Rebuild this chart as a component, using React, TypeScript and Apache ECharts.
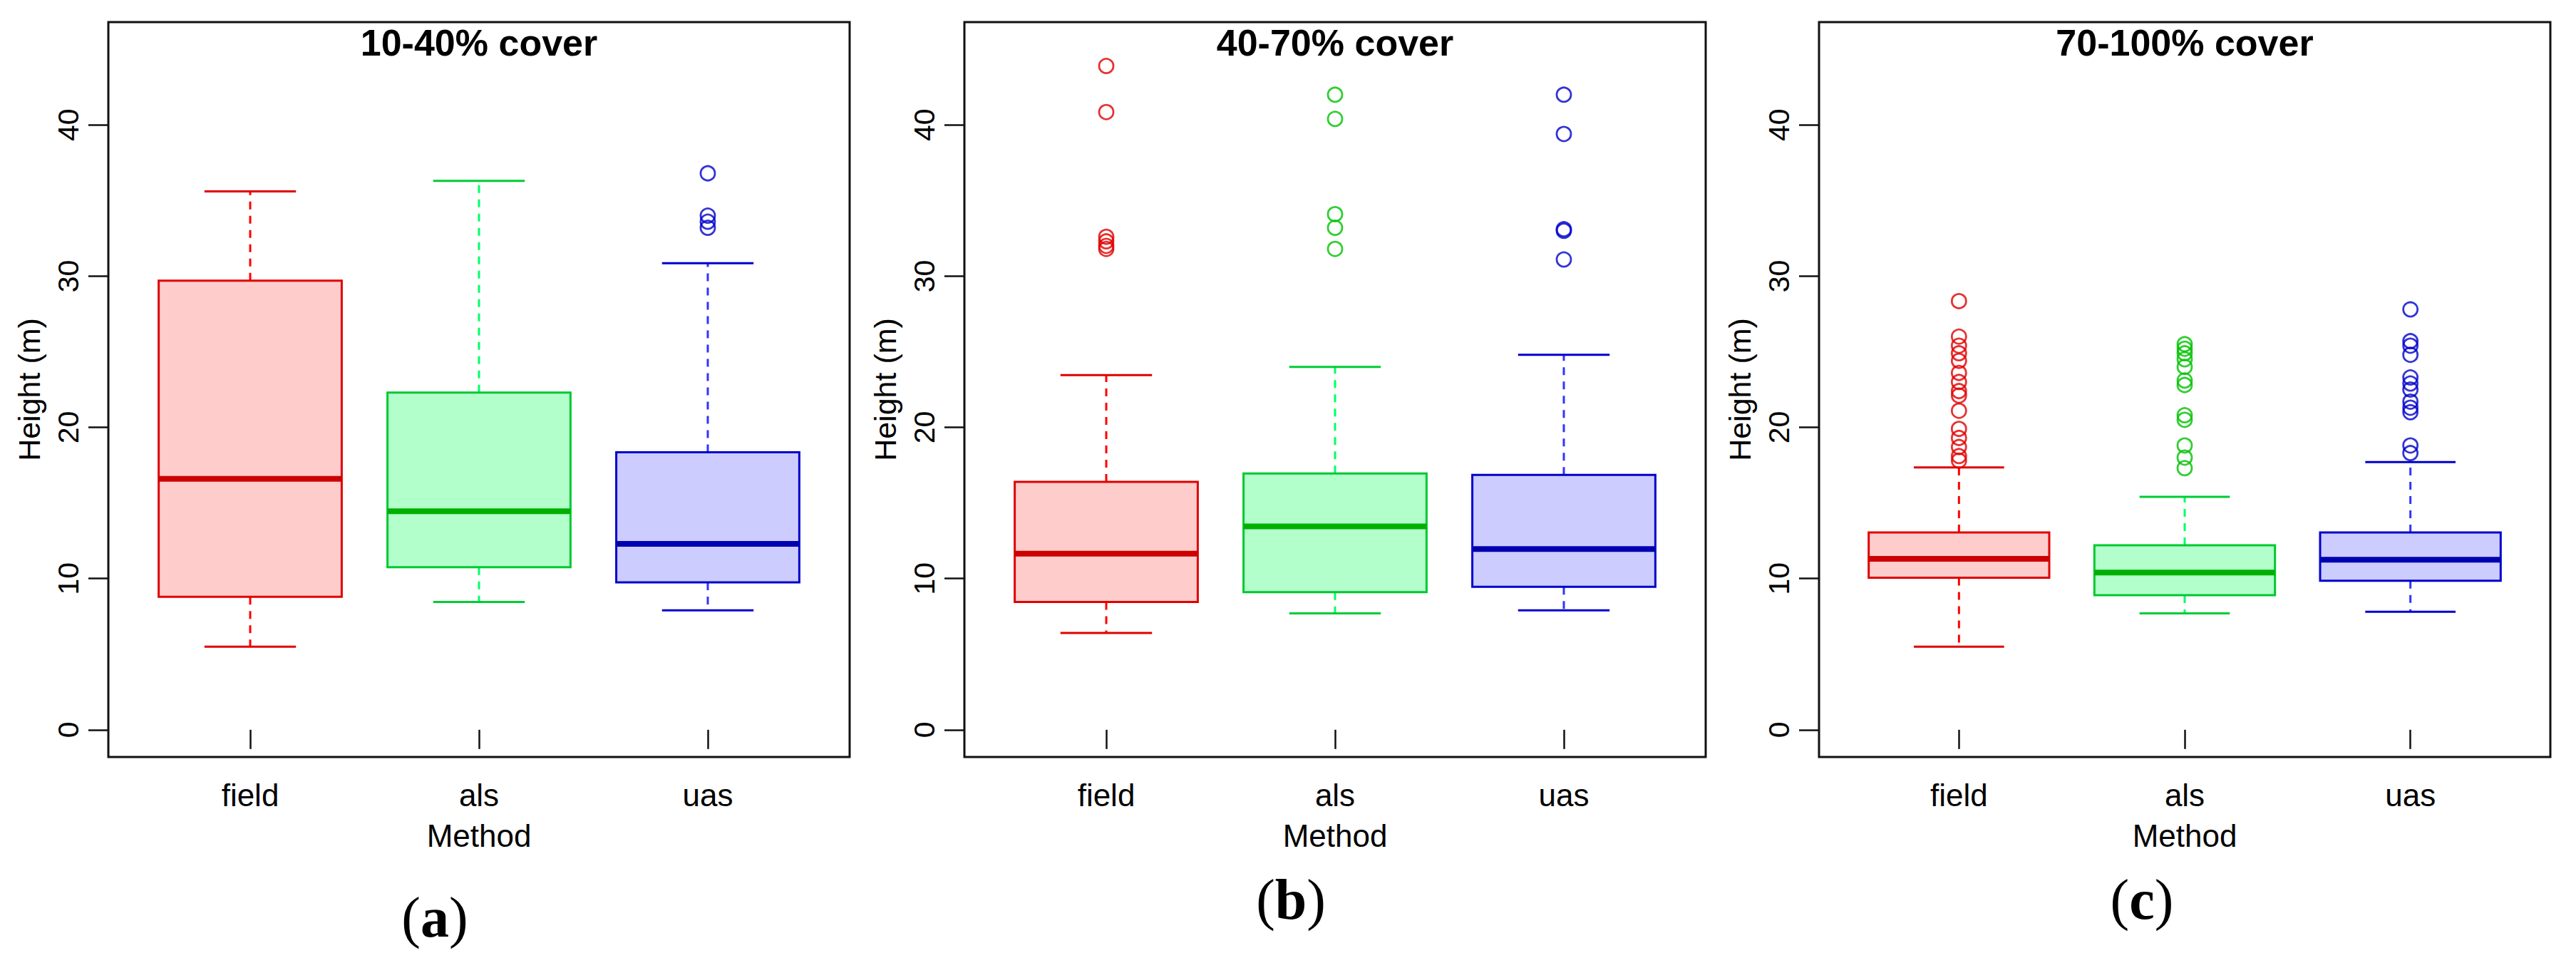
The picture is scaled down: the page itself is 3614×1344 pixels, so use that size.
import React, { useEffect, useRef } from "react";
import * as echarts from "echarts";

// ---------- data ----------
const categories = ["field", "als", "uas"];
const panelTitles = ["10-40% cover", "40-70% cover", "70-100% cover"];
const panelLetters = ["a", "b", "c"];
const yTicks = [0, 10, 20, 30, 40];
const xTicks = [1, 2, 3];

// [lower whisker, Q1, median, Q3, upper whisker]
const statsA = [
  [5.5, 8.8, 16.6, 29.7, 35.6],
  [8.45, 10.75, 14.45, 22.3, 36.3],
  [7.9, 9.75, 12.3, 18.35, 30.85],
];
const statsB = [
  [6.4, 8.45, 11.65, 16.4, 23.45],
  [7.7, 9.1, 13.45, 16.95, 24.0],
  [7.9, 9.45, 11.95, 16.85, 24.8],
];
const statsC = [
  [5.5, 10.05, 11.3, 13.05, 17.35],
  [7.7, 8.9, 10.4, 12.2, 15.4],
  [7.8, 9.85, 11.25, 13.05, 17.7],
];

const outliersA = [[], [], [36.8, 34.0, 33.6, 33.2]];
const outliersB = [
  [43.9, 40.85, 32.6, 32.3, 32.0, 31.8],
  [42.0, 40.4, 34.1, 33.2, 31.8],
  [42.0, 39.4, 33.1, 33.0, 31.1],
];
const outliersC = [
  [28.35, 26.0, 25.4, 24.9, 24.4, 23.6, 23.0, 22.4, 22.1, 21.1, 19.9, 19.3, 18.7, 18.1, 17.8],
  [25.5, 25.2, 24.9, 24.5, 24.0, 23.1, 22.8, 20.8, 20.5, 18.8, 18.0, 17.3],
  [27.8, 25.7, 25.4, 24.8, 23.3, 22.9, 22.5, 21.7, 21.3, 21.0, 18.8, 18.3],
];

const allStats = [statsA, statsB, statsC];
const allOutliers = [outliersA, outliersB, outliersC];

// ---------- styles ----------
const boxFill = ["#ffcccc", "#b3ffcc", "#ccccff"];
const boxBorder = ["#e00000", "#00c830", "#0000cc"];
const medianColor = ["#cc0000", "#00b000", "#0000b0"];
const whiskerColor = ["#ff0000", "#00ff66", "#3333ff"];
const capColor = ["#e00000", "#00cc33", "#0000cc"];
const outlierColor = ["#e00000", "#00c000", "#0000cc"];

const grids = [
  { left: 152, top: 31, width: 1040, height: 1031 },
  { left: 1353, top: 31, width: 1040, height: 1031 },
  { left: 2552, top: 31, width: 1026, height: 1031 },
];
const letterPos = [
  [610, 1287],
  [1811, 1262],
  [3005, 1262],
];

const FONT = "'Liberation Sans', Arial, sans-serif";

function renderBox(params: any, api: any) {
  const k = params.dataIndex;
  const x = api.value(0);
  const mn = api.coord([x, api.value(1)]);
  const q1 = api.coord([x, api.value(2)]);
  const md = api.coord([x, api.value(3)]);
  const q3 = api.coord([x, api.value(4)]);
  const mx = api.coord([x, api.value(5)]);
  const half = api.size([0.4, 0])[0];
  const capHalf = api.size([0.2, 0])[0];
  const cx = mn[0];
  const lw = 3;
  return {
    type: "group",
    children: [
      {
        type: "line",
        shape: { x1: cx, y1: q3[1], x2: cx, y2: mx[1] },
        style: { stroke: whiskerColor[k], lineWidth: lw, lineDash: [11, 9] },
      },
      {
        type: "line",
        shape: { x1: cx, y1: q1[1], x2: cx, y2: mn[1] },
        style: { stroke: whiskerColor[k], lineWidth: lw, lineDash: [11, 9] },
      },
      {
        type: "line",
        shape: { x1: cx - capHalf, y1: mx[1], x2: cx + capHalf, y2: mx[1] },
        style: { stroke: capColor[k], lineWidth: lw },
      },
      {
        type: "line",
        shape: { x1: cx - capHalf, y1: mn[1], x2: cx + capHalf, y2: mn[1] },
        style: { stroke: capColor[k], lineWidth: lw },
      },
      {
        type: "rect",
        shape: { x: cx - half, y: q3[1], width: half * 2, height: q1[1] - q3[1] },
        style: { fill: boxFill[k], stroke: boxBorder[k], lineWidth: lw },
      },
      {
        type: "line",
        shape: { x1: cx - half, y1: md[1], x2: cx + half, y2: md[1] },
        style: { stroke: medianColor[k], lineWidth: 8 },
      },
    ],
  };
}

export default function App() {
  const ref = useRef<HTMLDivElement>(null);
  useEffect(() => {
    if (!ref.current) return;
    const chart = echarts.init(ref.current, undefined, { renderer: "svg" });

    const grid = grids.map((g) => ({
      ...g,
      show: true,
      borderColor: "#111",
      borderWidth: 3,
      backgroundColor: "transparent",
      containLabel: false,
    }));

    const xAxis = grids.map((_, i) => ({
      type: "value",
      gridIndex: i,
      min: 0.38,
      max: 3.62,
      name: "Method",
      nameLocation: "middle",
      nameGap: 88,
      nameTextStyle: { fontFamily: FONT, fontSize: 44, color: "#000" },
      axisLine: { show: false },
      splitLine: { show: false },
      axisTick: {
        show: true,
        inside: false,
        length: 27,
        customValues: xTicks,
        lineStyle: { color: "#111", width: 2.5 },
      },
      axisLabel: {
        customValues: xTicks,
        margin: 31,
        fontFamily: FONT,
        fontSize: 44,
        color: "#000",
        formatter: (v: number) => categories[Math.round(v) - 1] ?? "",
      },
    }));

    const yAxis = grids.map((_, i) => ({
      type: "value",
      gridIndex: i,
      min: -1.8,
      max: 46.8,
      name: "Height (m)",
      nameLocation: "middle",
      nameRotate: 90,
      nameGap: 90,
      nameTextStyle: { fontFamily: FONT, fontSize: 43, color: "#000" },
      axisLine: { show: false },
      splitLine: { show: false },
      axisTick: {
        show: true,
        inside: false,
        length: 28,
        customValues: yTicks,
        lineStyle: { color: "#111", width: 2.5 },
      },
      axisLabel: {
        customValues: yTicks,
        rotate: 90,
        margin: 36,
        fontFamily: FONT,
        fontSize: 41,
        color: "#000",
      },
    }));

    const series: any[] = [];
    allStats.forEach((stats, i) => {
      series.push({
        type: "custom",
        xAxisIndex: i,
        yAxisIndex: i,
        renderItem: renderBox,
        encode: { x: 0, y: [1, 2, 3, 4, 5] },
        data: stats.map((s, k) => [k + 1, ...s]),
        z: 2,
      });
      allOutliers[i].forEach((arr, k) => {
        series.push({
          type: "scatter",
          xAxisIndex: i,
          yAxisIndex: i,
          symbol: "circle",
          symbolSize: 20,
          itemStyle: { color: "transparent", borderColor: outlierColor[k], borderWidth: 2.8 },
          data: arr.map((v) => [k + 1, v]),
          z: 3,
        });
      });
    });

    const graphic: any[] = [];
    grids.forEach((g, i) => {
      graphic.push({
        type: "text",
        x: g.left + g.width / 2,
        y: 60,
        style: {
          text: panelTitles[i],
          textAlign: "center",
          textVerticalAlign: "middle",
          fontFamily: FONT,
          fontWeight: "bold",
          fontSize: 52,
          fill: "#000",
        },
      });
      graphic.push({
        type: "text",
        x: letterPos[i][0],
        y: letterPos[i][1],
        style: {
          text: "{p|(}{b|" + panelLetters[i] + "}{p|)}",
          textAlign: "center",
          textVerticalAlign: "middle",
          rich: {
            p: { fontFamily: "'Liberation Serif', serif", fontSize: 80, fill: "#000" },
            b: { fontFamily: "'Liberation Serif', serif", fontSize: 80, fontWeight: "bold", fill: "#000" },
          },
        },
      });
    });

    chart.setOption({
      animation: false,
      backgroundColor: "#fff",
      grid,
      xAxis,
      yAxis,
      series,
      graphic,
    });
    return () => chart.dispose();
  }, []);

  return (
    <div
      ref={ref}
      style={{ position: "fixed", left: 0, top: 0, width: 3614, height: 1344 }}
    />
  );
}
